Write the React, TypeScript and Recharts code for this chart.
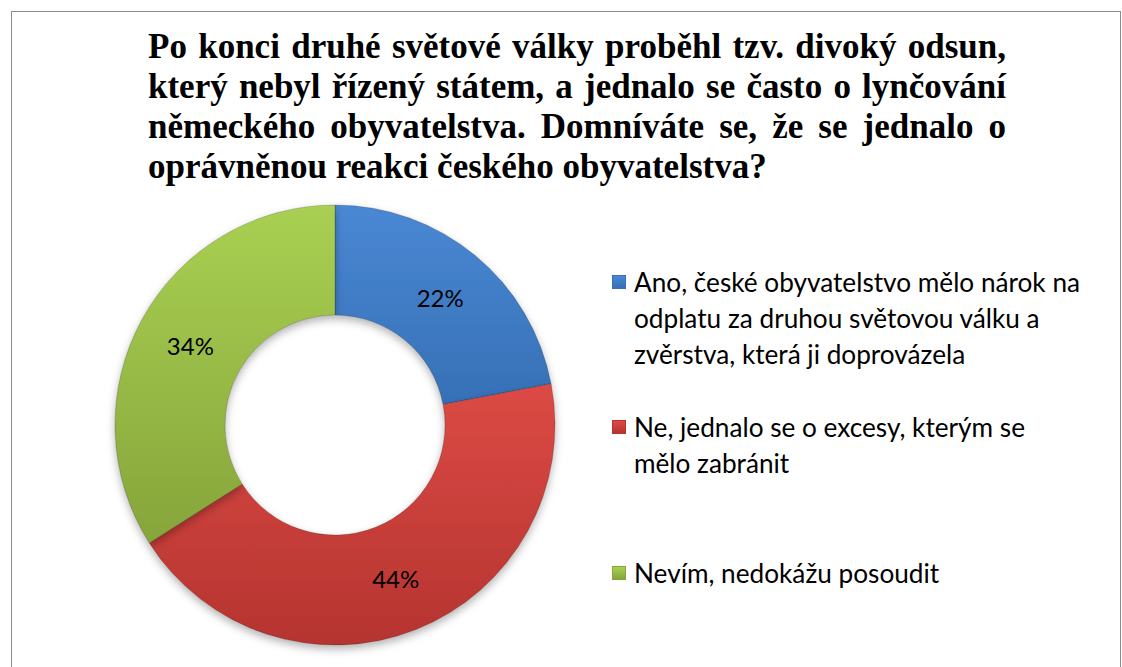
import { PieChart, Pie, Cell, Legend } from "recharts";

// Odpovědi respondentů (v %)
const odpovedi = [
  "Ano, české obyvatelstvo mělo nárok na\nodplatu za druhou světovou válku a\nzvěrstva, která ji doprovázela",
  "Ne, jednalo se o excesy, kterým se\nmělo zabránit",
  "Nevím, nedokážu posoudit",
];
const podily = [22, 44, 34];
const barvy = [
  { top: "#4a88d4", bottom: "#3670b6" },
  { top: "#dc4a45", bottom: "#b5342f" },
  { top: "#a9d052", bottom: "#86a53a" },
];
const titulek = [
  "Po konci druhé světové války proběhl tzv. divoký odsun,",
  "který nebyl řízený státem, a jednalo se často o lynčování",
  "německého obyvatelstva. Domníváte se, že se jednalo o",
  "oprávněnou reakci českého obyvatelstva?",
];

const chartData = odpovedi.map((name, i) => ({ name, value: podily[i] }));
const RADIAN = Math.PI / 180;

function renderLabel(props: any) {
  const { cx, cy, midAngle, innerRadius, outerRadius, value } = props;
  const r = (innerRadius + outerRadius) / 2;
  const x = cx + r * Math.cos(-midAngle * RADIAN);
  const y = cy + r * Math.sin(-midAngle * RADIAN);
  return (
    <text
      x={x}
      y={y}
      textAnchor="middle"
      dominantBaseline="central"
      fill="#000"
      style={{ fontFamily: "Lato, sans-serif", fontSize: 24 }}
    >
      {value}%
    </text>
  );
}

function LegendContent() {
  const tops = [264, 409, 555];
  return (
    <div>
      {odpovedi.map((label, i) => (
        <div
          key={i}
          style={{ position: "absolute", left: 612, top: tops[i], display: "flex", alignItems: "flex-start" }}
        >
          <span
            style={{
              width: 14,
              height: 14,
              marginTop: 11,
              marginRight: 8,
              flex: "0 0 auto",
              background: `linear-gradient(${barvy[i].top}, ${barvy[i].bottom})`,
              border: `1px solid ${barvy[i].bottom}`,
              boxSizing: "border-box",
            }}
          />
          <span
            style={{
              whiteSpace: "pre-line",
              fontFamily: "Lato, sans-serif",
              fontSize: 26.2,
              lineHeight: "36px",
              color: "#000",
            }}
          >
            {label}
          </span>
        </div>
      ))}
    </div>
  );
}

export default function App() {
  return (
    <div style={{ position: "absolute", left: 0, top: 0, width: 1122, height: 667, background: "#fff", overflow: "hidden" }}>
      <div
        style={{
          position: "absolute",
          left: 11,
          top: 11,
          width: 1108,
          height: 700,
          border: "1px solid #8c8c8c",
        }}
      />
      <div
        style={{
          position: "absolute",
          left: 148,
          top: 27,
          width: 858,
          fontFamily: "'Liberation Serif', serif",
          fontWeight: "bold",
          fontSize: 35,
          lineHeight: "40px",
          color: "#000",
        }}
      >
        {titulek.map((line, i) => (
          <div
            key={i}
            style={{ textAlign: "justify", textAlignLast: i < titulek.length - 1 ? "justify" : "left", whiteSpace: "nowrap" }}
          >
            {line}
          </div>
        ))}
      </div>
      <div style={{ position: "absolute", left: 0, top: 0 }}>
        <PieChart width={1122} height={667} margin={{ top: 0, right: 0, bottom: 0, left: 0 }}>
          <defs>
            {barvy.map((b, i) => (
              <linearGradient key={i} id={`grad${i}`} x1="0" y1="0" x2="0" y2="1">
                <stop offset="0%" stopColor={b.top} />
                <stop offset="100%" stopColor={b.bottom} />
              </linearGradient>
            ))}
            <filter id="shadow" x="-10%" y="-10%" width="120%" height="125%">
              <feDropShadow dx="0" dy="4" stdDeviation="4" floodColor="#000" floodOpacity="0.3" />
            </filter>
          </defs>
          <Pie
            data={chartData}
            dataKey="value"
            nameKey="name"
            cx={335}
            cy={425}
            innerRadius={110}
            outerRadius={220}
            startAngle={90}
            endAngle={-270}
            stroke="rgba(0,0,0,0.18)"
            strokeWidth={1}
            label={renderLabel}
            labelLine={false}
            isAnimationActive={false}
            style={{ filter: "url(#shadow)" }}
          >
            {chartData.map((_, i) => (
              <Cell key={i} fill={`url(#grad${i})`} />
            ))}
          </Pie>
          <Legend content={() => <LegendContent />} wrapperStyle={{ left: 0, top: 0, width: 1122, height: 667 }} />
        </PieChart>
      </div>
    </div>
  );
}
